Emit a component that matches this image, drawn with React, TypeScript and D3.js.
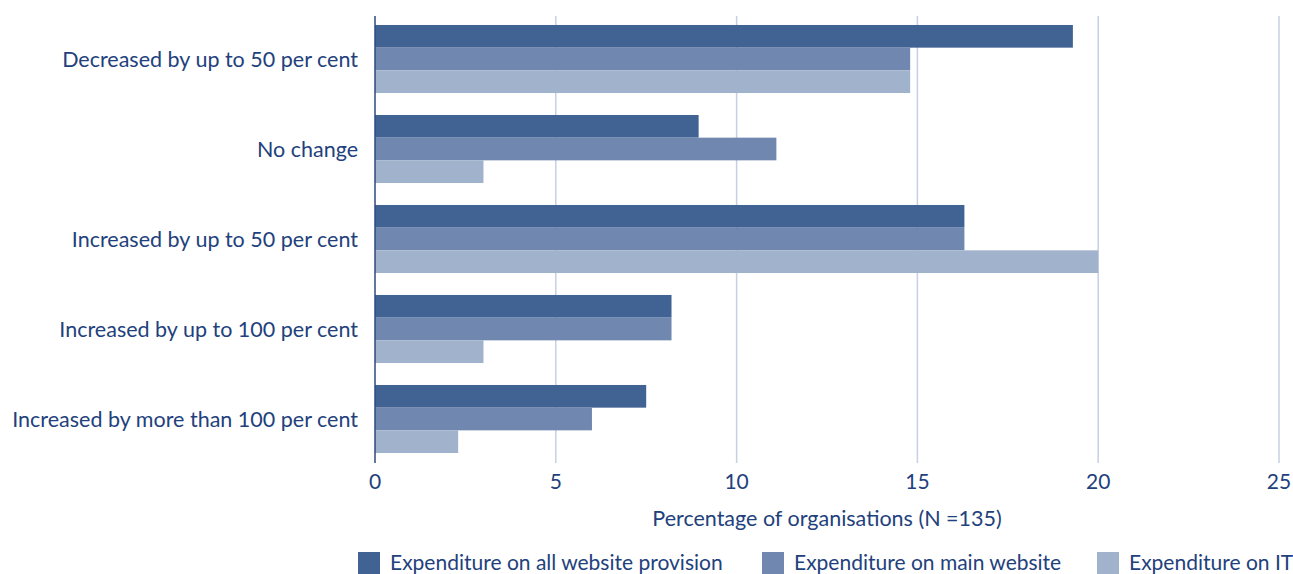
import React from 'react';
import * as d3 from 'd3';

const categories = [
  'Decreased by up to 50 per cent',
  'No change',
  'Increased by up to 50 per cent',
  'Increased by up to 100 per cent',
  'Increased by more than 100 per cent',
];
const seriesNames = [
  'Expenditure on all website provision',
  'Expenditure on main website',
  'Expenditure on IT',
];
const allWebsite = [19.3, 8.95, 16.3, 8.2, 7.5];
const mainWebsite = [14.8, 11.1, 16.3, 8.2, 6.0];
const itSpend = [14.8, 3.0, 20.0, 3.0, 2.3];
const xTicks = [0, 5, 10, 15, 20, 25];

const colors = ['#416394', '#7088b0', '#a1b2cc'];
const textColor = '#22417c';
const font = 'Lato, "Open Sans", sans-serif';

const W = 1293;
const H = 574;

const App = () => {
  const x = d3.scaleLinear().domain([0, 25]).range([375, 1279]);
  const y = d3.scaleBand<string>().domain(categories).range([14, 464]).paddingInner(0.244).paddingOuter(0.122);
  const inner = d3.scaleBand<number>().domain([0, 1, 2]).range([0, y.bandwidth()]);
  const series = [allWebsite, mainWebsite, itSpend];

  const legendX = [358, 762, 1097];

  return (
    <svg width={W} height={H} style={{ position: 'absolute', left: 0, top: 0 }}>
      <rect width={W} height={H} fill="#fff" />
      {xTicks.slice(1).map(t => (
        <line key={t} x1={x(t)} x2={x(t)} y1={16} y2={463} stroke="#c6d0e2" strokeWidth={1.5} />
      ))}
      {series.map((vals, si) =>
        categories.map((c, ci) => (
          <rect
            key={`${si}-${ci}`}
            x={x(0)}
            y={(y(c) as number) + (inner(si) as number)}
            width={x(vals[ci]) - x(0)}
            height={inner.bandwidth()}
            fill={colors[si]}
          />
        ))
      )}
      <line x1={x(0)} x2={x(0)} y1={16} y2={463} stroke="#2c4a80" strokeWidth={1.5} />
      {categories.map(c => (
        <text
          key={c}
          x={358}
          y={(y(c) as number) + y.bandwidth() / 2}
          dy="0.35em"
          textAnchor="end"
          fontFamily={font}
          fontSize={21.5}
          fill={textColor}
        >
          {c}
        </text>
      ))}
      {xTicks.map(t => (
        <text key={t} x={x(t)} y={489} textAnchor="middle" fontFamily={font} fontSize={21} fill={textColor}>
          {t}
        </text>
      ))}
      <text x={827} y={526} textAnchor="middle" fontFamily={font} fontSize={21.5} fill={textColor}>
        Percentage of organisations (N =135)
      </text>
      {seriesNames.map((n, i) => (
        <g key={n}>
          <rect x={legendX[i]} y={552} width={22} height={22} fill={colors[i]} />
          <text x={legendX[i] + 32} y={570} fontFamily={font} fontSize={21} fill={textColor}>
            {n}
          </text>
        </g>
      ))}
    </svg>
  );
};

export default App;
